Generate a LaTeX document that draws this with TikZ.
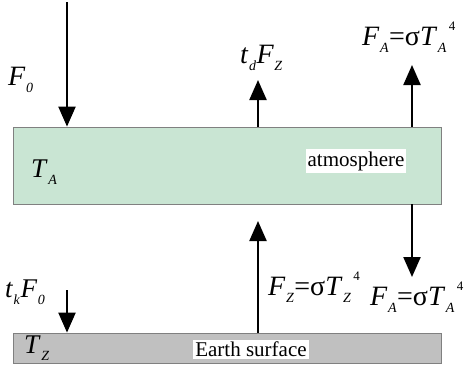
\documentclass[tikz,border=0pt]{standalone}
\usepackage{fontspec}
\setmainfont{Liberation Serif}
\usetikzlibrary{arrows.meta}
\definecolor{atmgreen}{HTML}{C9E5D3}
\definecolor{earthgray}{HTML}{C0C0C0}
\newcommand\sbx[1]{\kern0.5pt\raisebox{-0.6ex}{\fontsize{14}{14}\selectfont\textit{#1}}\kern0.5pt}
\newcommand\spx[1]{\kern2pt\raisebox{1.1ex}{\fontsize{13}{13}\selectfont #1}}
\tikzset{
  layer/.style={draw=gray, line width=0.8pt, inner sep=0pt, minimum width=428pt},
  arr/.style={line width=2.2pt, -{Triangle[length=20pt,width=17pt]}},
  mlab/.style={font=\fontsize{28}{28}\selectfont, inner sep=0pt, anchor=base west},
  slab/.style={font=\fontsize{27}{27}\selectfont, inner sep=0pt, anchor=base west},
  tlab/.style={font=\fontsize{21}{21}\selectfont, fill=white, inner sep=2pt}
}
\begin{document}
\begin{tikzpicture}[x=1pt,y=-1pt]
\useasboundingbox (0,0) rectangle (465,365);
\node[layer, fill=atmgreen, minimum height=77pt] (atm) at (227,165.5) {};
\node[layer, fill=earthgray, minimum height=30pt] (earth) at (227,348) {};
\node[tlab] (atmtext) at (356,161) {atmosphere};
\node[tlab] (earthtext) at (251,349) {Earth surface};
\node[slab] (ta) at (31,177) {\textit{T}\sbx{A}};
\node[slab] (tz) at (24,353) {\textit{T}\sbx{Z}};
\coordinate (c1) at (67,2);
\coordinate (c2) at (258,80);
\coordinate (c3) at (412,65);
\coordinate (c4) at (258,221);
\coordinate (c5) at (412,277);
\coordinate (c6) at (67,290);
\draw[arr] (c1) -- (c1 |- atm.north);
\draw[arr] (c2 |- atm.north) -- (c2);
\draw[arr] (c3 |- atm.north) -- (c3);
\draw[arr] (c4 |- earth.north) -- (c4);
\draw[arr] (c5 |- atm.south) -- (c5);
\draw[arr] (c6) -- (c6 |- earth.north);
\node[mlab] (f0) at (8,85) {\textit{F}\sbx{0}};
\node[mlab] (tdfz) at (240,63) {\textit{t}\sbx{d}\textit{F}\sbx{Z}};
\node[mlab] (fatop) at (362,45) {\textit{F}\sbx{A}=σ\textit{T}\sbx{A}\spx{4}};
\node[slab] (tkf0) at (5,297) {\textit{t}\sbx{k}\textit{F}\sbx{0}};
\node[mlab] (fz) at (268,295) {\textit{F}\sbx{Z}=σ\textit{T}\sbx{Z}\spx{4}};
\node[mlab] (fabot) at (370,305) {\textit{F}\sbx{A}=σ\textit{T}\sbx{A}\spx{4}};
\end{tikzpicture}
\end{document}
